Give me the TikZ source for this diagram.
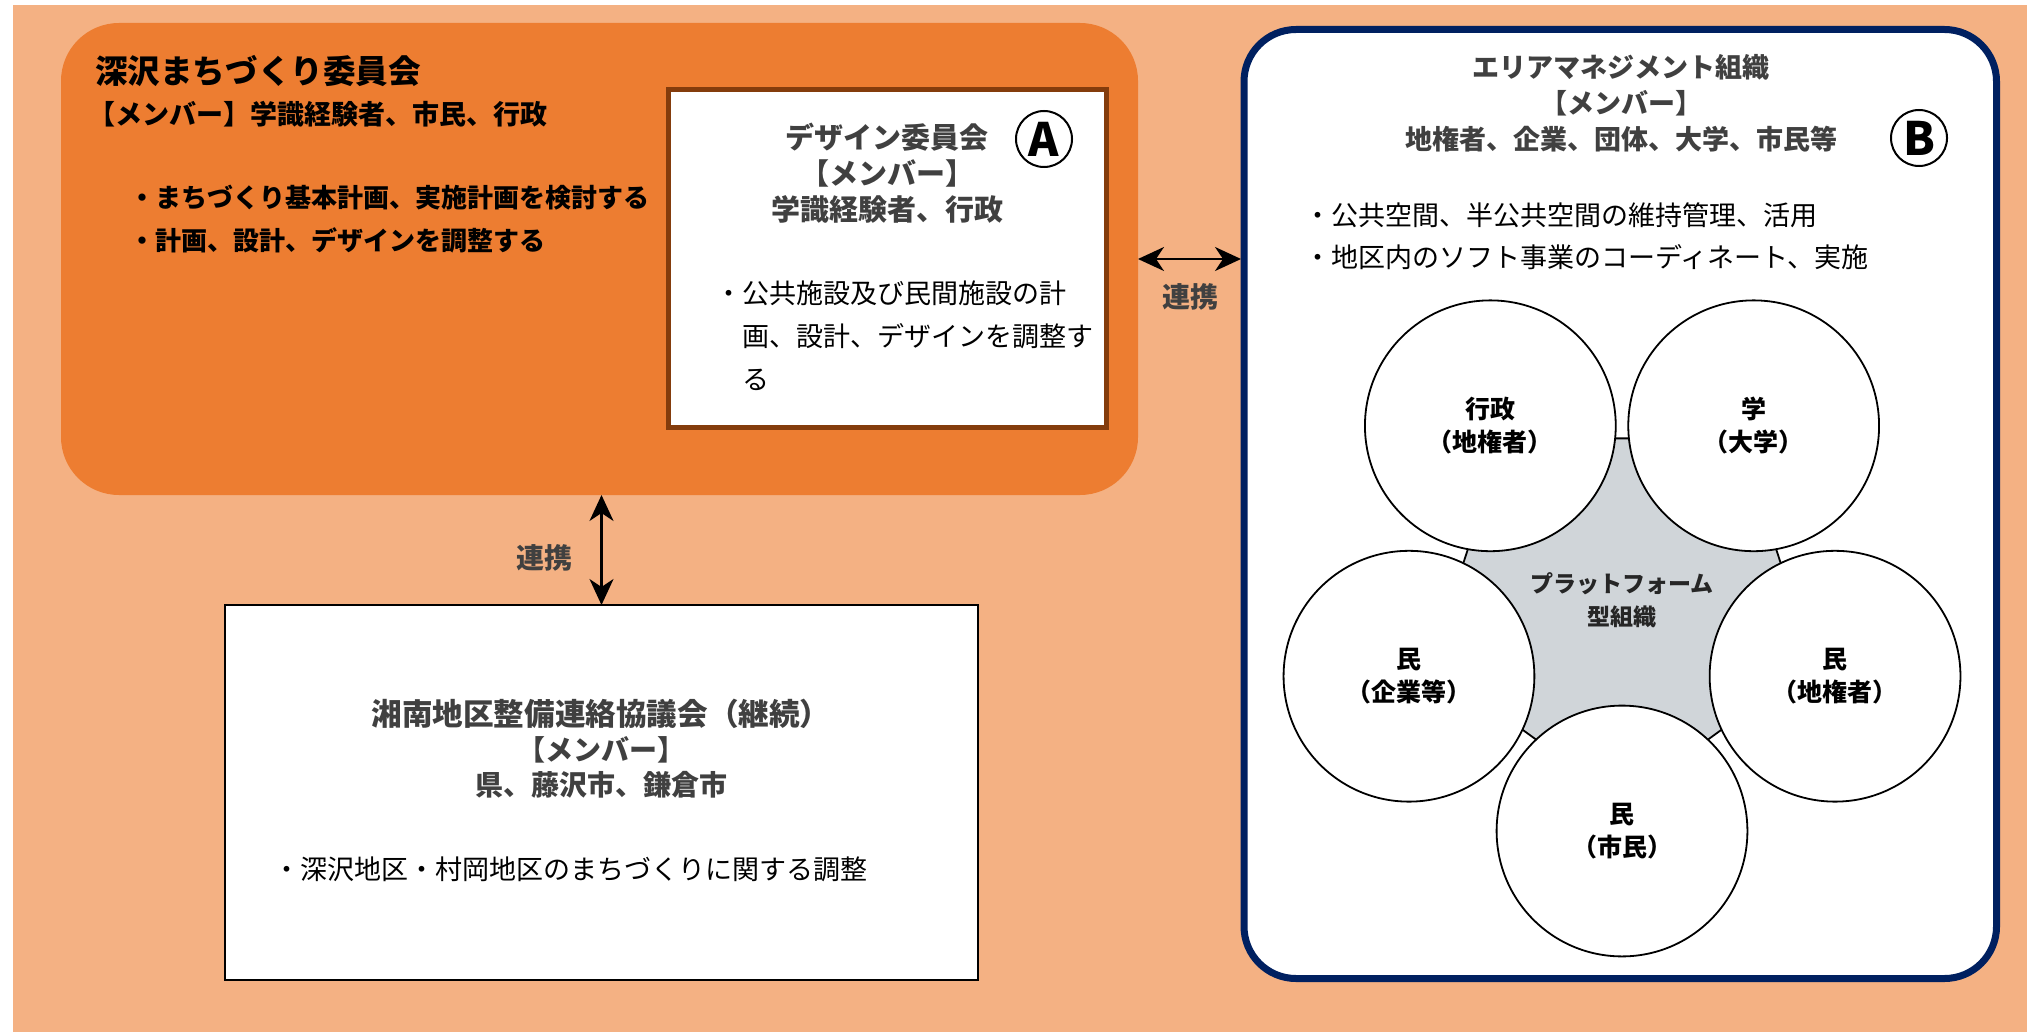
\documentclass[tikz,border=0pt]{standalone}
\usepackage{fontspec}
\setmainfont{Noto Sans CJK JP}
\usetikzlibrary{arrows.meta,fit,calc}
\definecolor{peach}{HTML}{F4B183}
\definecolor{orangebox}{HTML}{ED7D31}
\definecolor{navy}{HTML}{002060}
\definecolor{brownb}{HTML}{843C0C}
\definecolor{greytxt}{HTML}{404040}
\definecolor{penta}{HTML}{D0D5D9}
\newcommand\fsz[2]{\fontsize{#1}{#2}\selectfont}
\begin{document}
\begin{tikzpicture}[x=0.5pt,y=-0.5pt,
  every node/.style={inner sep=0pt, outer sep=0pt},
  boxtxt/.style={text=greytxt, align=center},
  link/.style={{Stealth[length=13pt,width=12pt,inset=4pt]}-{Stealth[length=13pt,width=12pt,inset=4pt]}, line width=1.2pt, black},
  member/.style={circle, draw=black, line width=0.9pt, fill=white, minimum size=125.4pt, align=center, font=\fsz{12.5}{16.5}\bfseries},
  circmark/.style={circle, draw=black, line width=1pt, minimum size=28pt, font=\fsz{23}{23}\bfseries},
  lbl/.style={font=\fsz{14}{16}\bfseries, text=greytxt}
]
\useasboundingbox (0,0) rectangle (2027,1032);
\fill[white] (0,0) rectangle (2027,1032);
\fill[peach] (13,5) rectangle (2027,1032);

% boxes
\node[fit={(61,23) (1138,495)}, fill=orangebox, rounded corners=29pt] (fuk) {};
\node[fit={(668.5,89.5) (1106.5,427.5)}, draw=brownb, line width=2.5pt, fill=white] (dsn) {};
\node[fit={(1244,29.5) (1996.5,978.5)}, draw=navy, line width=3.5pt, fill=white, rounded corners=26pt] (amo) {};
\node[fit={(225,605) (978,980)}, draw=black, line width=1pt, fill=white] (kyo) {};

% orange box text
\node[anchor=west, font=\fsz{16.3}{20}\bfseries] (t1) at (95,71) {深沢まちづくり委員会};
\node[anchor=west, font=\fsz{13.5}{16}\bfseries] (t2) at (88,114) {【メンバー】学識経験者、市民、行政};
\node[anchor=west, font=\fsz{13}{16}\bfseries] (b1) at (129,198) {・まちづくり基本計画、実施計画を検討する};
\node[anchor=west, font=\fsz{13}{16}\bfseries] (b2) at (129,240) {・計画、設計、デザインを調整する};

% design committee
\node[boxtxt, font=\fsz{14.5}{18}\bfseries] (dt) at (887,173) {デザイン委員会\\【メンバー】\\学識経験者、行政};
\node[circmark] (ca) at (1044,139) {A};
\node[anchor=west, align=left, font=\fsz{13.5}{21.5}] (db) at (715,336) {・公共施設及び民間施設の計\\　画、設計、デザインを調整す\\　る};

% area management
\node[boxtxt, font=\fsz{13.5}{18}\bfseries] (at) at (1621,103) {エリアマネジメント組織\\【メンバー】\\地権者、企業、団体、大学、市民等};
\node[circmark] (cb) at (1919,138) {B};
\node[anchor=west, font=\fsz{13.5}{16}] (ab1) at (1304,215) {・公共空間、半公共空間の維持管理、活用};
\node[anchor=west, font=\fsz{13.5}{16}] (ab2) at (1304,257) {・地区内のソフト事業のコーディネート、実施};

% platform
\coordinate (pc) at (1622,601);
\coordinate (cc) at (1622,607);
\draw[fill=penta, line width=0.9pt] ($(pc)+(90:201)$) -- ($(pc)+(162:201)$) -- ($(pc)+(234:201)$) -- ($(pc)+(306:201)$) -- ($(pc)+(18:201)$) -- cycle;
\node[font=\fsz{11.5}{16.5}\bfseries, align=center, text=black!85] (pt) at (1622,600) {プラットフォーム\\型組織};
\node[member] (m1) at ($(cc)+(234:224)$) {行政\\（地権者）};
\node[member] (m2) at ($(cc)+(306:224)$) {学\\（大学）};
\node[member] (m3) at ($(cc)+(18:224)$) {民\\（地権者）};
\node[member] (m4) at ($(cc)+(90:224)$) {民\\（市民）};
\node[member] (m5) at ($(cc)+(162:224)$) {民\\（企業等）};

% council
\node[boxtxt, font=\fsz{15.3}{18}\bfseries] (kt1) at (601,714) {湘南地区整備連絡協議会（継続）};
\node[boxtxt, font=\fsz{14}{17.5}\bfseries] (kt2) at (601,767) {【メンバー】\\県、藤沢市、鎌倉市};
\node[anchor=west, font=\fsz{13.5}{16}] (kb) at (273,869) {・深沢地区・村岡地区のまちづくりに関する調整};

% connectors
\coordinate (hy) at (0,259);
\draw[link, shorten >=1.5pt] (fuk.east |- hy) -- (amo.west |- hy);
\draw[link] (fuk.south -| kyo.north) -- (kyo.north);
\node[lbl] (l1) at (1190,297) {連携};
\node[lbl] (l2) at (544,558) {連携};
\end{tikzpicture}
\end{document}
